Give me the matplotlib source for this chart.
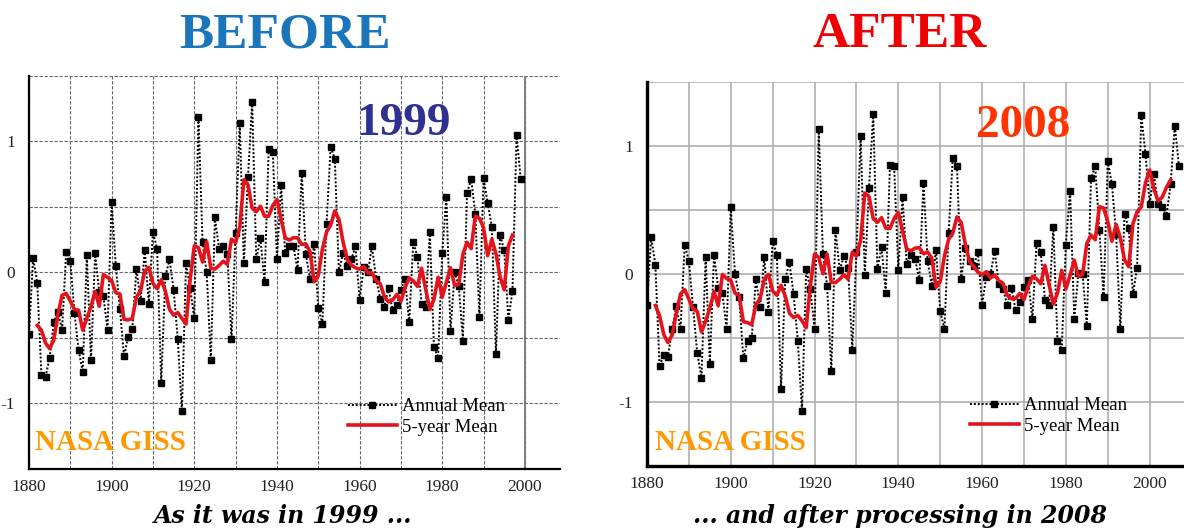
import numpy as np
import pandas as pd
import matplotlib
matplotlib.use("Agg")
import matplotlib.pyplot as plt

# ---------------- data ----------------
start_year = 1880
annual_1999 = [
    -0.47, 0.11, -0.08, -0.78, -0.80, -0.65, -0.38, -0.30, -0.44, 0.16,   # 1880s
    0.09, -0.31, -0.59, -0.76, 0.13, -0.67, 0.15, -0.15, -0.18, -0.44,    # 1890s
    0.54, 0.05, -0.28, -0.64, -0.49, -0.43, 0.03, -0.22, 0.17, -0.24,     # 1900s
    0.31, 0.18, -0.84, -0.03, 0.10, -0.13, -0.51, -1.06, 0.07, -0.12,     # 1910s
    -0.35, 1.19, 0.23, 0.00, -0.67, 0.42, 0.18, 0.20, 0.14, -0.51,        # 1920s
    0.30, 1.14, 0.07, 0.73, 1.30, 0.10, 0.26, -0.07, 0.94, 0.92,          # 1930s
    0.10, 0.67, 0.15, 0.20, 0.20, 0.02, 0.76, 0.14, -0.05, 0.22,          # 1940s
    -0.27, -0.39, 0.37, 0.96, 0.87, 0.00, 0.15, 0.05, 0.10, 0.20,         # 1950s
    -0.21, 0.04, 0.00, 0.20, -0.05, -0.20, -0.26, -0.12, -0.29, -0.25,    # 1960s
    -0.13, -0.05, -0.38, 0.23, 0.12, -0.24, -0.26, 0.31, -0.57, -0.65,    # 1970s
    0.15, 0.58, -0.45, 0.00, -0.10, -0.52, 0.61, 0.71, 0.45, -0.34,       # 1980s
    0.72, 0.53, 0.35, -0.62, 0.29, 0.17, -0.36, -0.14, 1.05, 0.71,        # 1990s
]
annual_2008 = [
    -0.24, 0.29, 0.07, -0.72, -0.63, -0.65, -0.43, -0.25, -0.43, 0.23,   # 1880s
    0.10, -0.26, -0.62, -0.81, 0.13, -0.70, 0.15, -0.11, -0.15, -0.43,   # 1890s
    0.52, 0.00, -0.18, -0.66, -0.52, -0.50, -0.04, -0.26, 0.13, -0.30,   # 1900s
    0.26, 0.15, -0.90, -0.04, 0.09, -0.16, -0.52, -1.07, 0.04, -0.12,    # 1910s
    -0.43, 1.13, 0.16, -0.09, -0.76, 0.34, 0.03, 0.14, 0.05, -0.59,      # 1920s
    0.17, 1.08, -0.01, 0.67, 1.25, 0.04, 0.21, -0.15, 0.85, 0.84,        # 1930s
    0.03, 0.60, 0.08, 0.15, 0.12, -0.05, 0.71, 0.10, -0.09, 0.19,        # 1940s
    -0.29, -0.43, 0.32, 0.91, 0.84, -0.04, 0.20, 0.10, 0.06, 0.17,       # 1950s
    -0.24, -0.02, 0.00, 0.18, -0.08, -0.12, -0.24, -0.11, -0.28, -0.22,  # 1960s
    -0.10, -0.05, -0.35, 0.24, 0.17, -0.20, -0.24, 0.37, -0.52, -0.59,   # 1970s
    0.23, 0.65, -0.35, 0.01, 0.00, -0.41, 0.75, 0.84, 0.34, -0.18,       # 1980s
    0.88, 0.70, 0.31, -0.43, 0.47, 0.36, -0.16, 0.05, 1.24, 0.94,        # 1990s
    0.55, 0.78, 0.55, 0.52, 0.45, 0.70, 1.16, 0.84,                      # 2000s
]
x_labels = ["1880", "1900", "1920", "1940", "1960", "1980", "2000"]
y_labels = ["-1", "0", "1"]
legend_labels = ["Annual Mean", "5-year Mean"]

W, H = 1184, 532
fig = plt.figure(figsize=(W / 100, H / 100), dpi=100)
fig.patch.set_facecolor("white")

SERIF = ["Liberation Serif", "DejaVu Serif"]
CAPTION = ["DejaVu Serif"]


def fx(px):
    return px / W


def fy(py):
    return 1 - py / H


def panel(rect, values, xmax, grid_style, spine_lw, legend_xy):
    ax = fig.add_axes(rect)
    years = np.arange(start_year, start_year + len(values))
    s = pd.Series(values, index=years)
    smooth = s.rolling(5, center=True).mean()
    l1, = ax.plot(years, s.values, linestyle=(0, (1, 1)), color="black", lw=1.4,
                  marker="s", markersize=3.8, markerfacecolor="black",
                  markeredgecolor="black", zorder=3)
    l2, = ax.plot(years, smooth.values, color="#e3141c", lw=2.6, zorder=4)
    ax.set_xlim(1880, xmax)
    ax.set_ylim(-1.5, 1.5)
    xt = np.arange(1880, 2001, 10)
    ax.set_xticks(xt)
    ax.set_xticklabels([str(y) if str(y) in x_labels else "" for y in xt])
    yt = np.arange(-1.5, 1.51, 0.5)
    ax.set_yticks(yt)
    ax.set_yticklabels([str(int(v)) if (abs(v - round(v)) < 1e-6 and str(int(v)) in y_labels) else "" for v in yt])
    ax.grid(True, **grid_style)
    ax.set_axisbelow(True)
    for sp in ["top", "right"]:
        ax.spines[sp].set_visible(False)
    for sp in ["left", "bottom"]:
        ax.spines[sp].set_linewidth(spine_lw)
        ax.spines[sp].set_color("black")
    ax.tick_params(axis="both", length=0, labelsize=12.5, colors="#222222")
    ax.tick_params(axis="x", pad=7)
    ax.tick_params(axis="y", pad=10)
    for lab in ax.get_xticklabels() + ax.get_yticklabels():
        lab.set_family(SERIF)
    ax.legend([l1, l2], legend_labels, loc="upper left",
              bbox_to_anchor=(fx(legend_xy[0]), fy(legend_xy[1])),
              bbox_transform=fig.transFigure, frameon=False,
              prop={"family": SERIF, "size": 13.5}, numpoints=1,
              handlelength=2.6, handletextpad=0.3, labelspacing=0.2,
              borderpad=0, borderaxespad=0)
    return ax


# left panel (1999)
axL = panel([fx(29), fy(469), fx(560) - fx(29), fy(76) - fy(469)], annual_1999, 2008.5,
            dict(linestyle=(0, (3, 1.5)), color="#666666", lw=0.8), 1.6, (348, 398))
axL.axvline(2000, color="#777777", lw=1.3, zorder=1)

# right panel (2008)
axR = panel([fx(647), fy(466), fx(1184) - fx(647), fy(82) - fy(466)], annual_2008, 2008.2,
            dict(linestyle="-", color="#aaaaaa", lw=1.1), 2.4, (970, 397))

# headline texts
fig.text(fx(285), fy(35), "BEFORE", ha="center", va="center", color="#1b75bb",
         fontsize=37, fontweight="bold", family=SERIF)
fig.text(fx(900), fy(35), "AFTER", ha="center", va="center", color="#f00000",
         fontsize=37, fontweight="bold", family=SERIF)
fig.text(fx(404), fy(124), "1999", ha="center", va="center", color="#2e3192",
         fontsize=34, fontweight="bold", family=SERIF)
fig.text(fx(1023), fy(126), "2008", ha="center", va="center", color="#ff3300",
         fontsize=34, fontweight="bold", family=SERIF)
fig.text(fx(35), fy(442), "NASA GISS", ha="left", va="center", color="#ff9900",
         fontsize=21, fontweight="bold", family=SERIF)
fig.text(fx(655), fy(442), "NASA GISS", ha="left", va="center", color="#ff9900",
         fontsize=21, fontweight="bold", family=SERIF)
fig.text(fx(283), fy(516), "As it was in 1999 ...", ha="center", va="center",
         color="black", fontsize=17, fontweight="bold", style="italic", family=CAPTION)
fig.text(fx(900), fy(516), "... and after processing in 2008", ha="center", va="center",
         color="black", fontsize=17, fontweight="bold", style="italic", family=CAPTION)

fig.savefig("out.png", dpi=100)
